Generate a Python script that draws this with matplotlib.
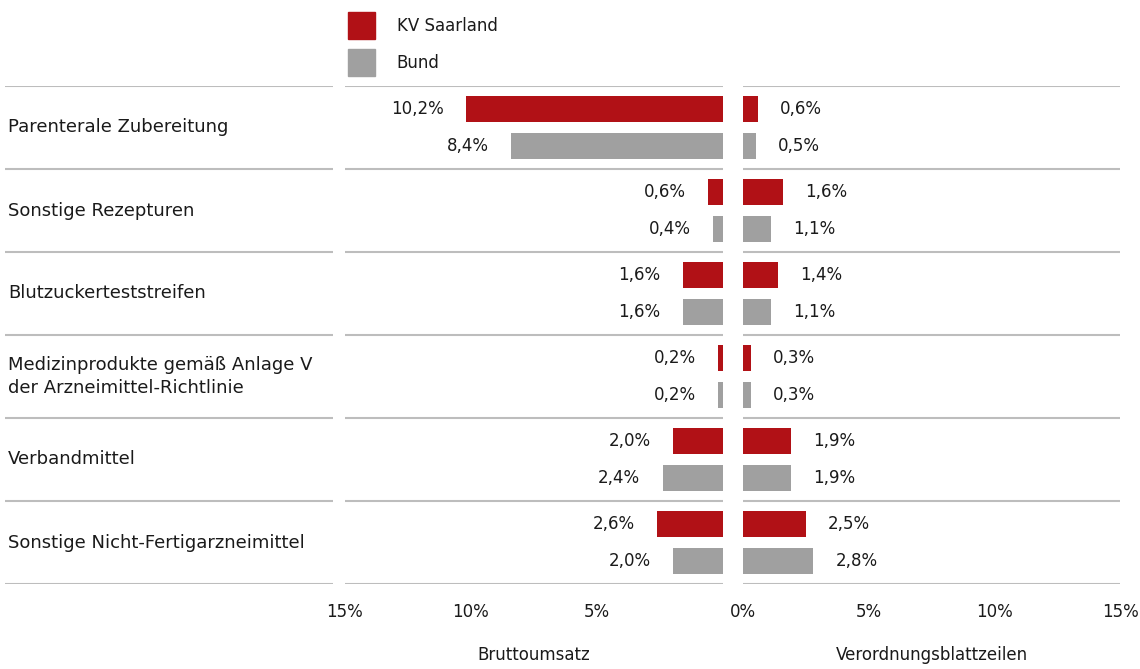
import matplotlib
matplotlib.use("Agg")
import matplotlib.pyplot as plt
import numpy as np

# data
categories = ["Parenterale Zubereitung", "Sonstige Rezepturen", "Blutzuckerteststreifen",
              "Medizinprodukte gemäß Anlage V\nder Arzneimittel-Richtlinie", "Verbandmittel",
              "Sonstige Nicht-Fertigarzneimittel"]
umsatz_kv = [10.2, 0.6, 1.6, 0.2, 2.0, 2.6]
umsatz_bund = [8.4, 0.4, 1.6, 0.2, 2.4, 2.0]
zeilen_kv = [0.6, 1.6, 1.4, 0.3, 1.9, 2.5]
zeilen_bund = [0.5, 1.1, 1.1, 0.3, 1.9, 2.8]
series_names = ["KV Saarland", "Bund"]

red = "#b11116"
grey = "#a0a0a0"
linecol = "#bdbdbd"
txtcol = "#1a1a1a"

plt.rcParams['font.family'] = ['DejaVu Sans']
plt.rcParams['font.size'] = 12

fig = plt.figure(figsize=(11.4, 6.69), dpi=100)
bot = 1 - 584 / 669
hgt = (584 - 86) / 669
ax_lab = fig.add_axes([5 / 1140, bot, 328 / 1140, hgt])
ax_l = fig.add_axes([345 / 1140, bot, 378 / 1140, hgt])
ax_r = fig.add_axes([743 / 1140, bot, 377 / 1140, hgt])

y = np.arange(len(categories))
off = 0.225
bh = 0.31

def fmt(v):
    return f"{v:.1f}%".replace(".", ",")

for ax in (ax_lab, ax_l, ax_r):
    ax.set_ylim(len(categories) - 0.5, -0.5)
    for s in ax.spines.values():
        s.set_visible(False)
    for b in np.arange(-0.5, len(categories), 1.0):
        ax.axhline(b, color=linecol, lw=1.5, zorder=0)
    ax.tick_params(length=0, colors=txtcol, labelsize=12, pad=14)
    ax.set_yticks([])

# category labels
ax_lab.set_xlim(0, 1)
ax_lab.set_xticks([])
for i, c in enumerate(categories):
    ax_lab.text(0.01, i, c, ha="left", va="center", fontsize=13, color=txtcol, linespacing=1.4)

# left panel, reversed
ax_l.barh(y - off, umsatz_kv, height=bh, color=red)
ax_l.barh(y + off, umsatz_bund, height=bh, color=grey)
ax_l.set_xlim(15, 0)
ax_l.set_xticks([15, 10, 5])
ax_l.set_xticklabels(["15%", "10%", "5%"])
for i in range(len(categories)):
    ax_l.annotate(fmt(umsatz_kv[i]), (umsatz_kv[i], y[i] - off), xytext=(-16, 0),
                  textcoords="offset points", ha="right", va="center", color=txtcol, fontsize=12)
    ax_l.annotate(fmt(umsatz_bund[i]), (umsatz_bund[i], y[i] + off), xytext=(-16, 0),
                  textcoords="offset points", ha="right", va="center", color=txtcol, fontsize=12)
ax_l.set_xlabel("Bruttoumsatz", fontsize=12, color=txtcol, labelpad=18)

# right panel
ax_r.barh(y - off, zeilen_kv, height=bh, color=red)
ax_r.barh(y + off, zeilen_bund, height=bh, color=grey)
ax_r.set_xlim(0, 15)
ax_r.set_xticks([0, 5, 10, 15])
ax_r.set_xticklabels(["0%", "5%", "10%", "15%"])
for i in range(len(categories)):
    ax_r.annotate(fmt(zeilen_kv[i]), (zeilen_kv[i], y[i] - off), xytext=(16, 0),
                  textcoords="offset points", ha="left", va="center", color=txtcol, fontsize=12)
    ax_r.annotate(fmt(zeilen_bund[i]), (zeilen_bund[i], y[i] + off), xytext=(16, 0),
                  textcoords="offset points", ha="left", va="center", color=txtcol, fontsize=12)
ax_r.set_xlabel("Verordnungsblattzeilen", fontsize=12, color=txtcol, labelpad=18)

# legend
fig.legend(handles=[plt.Rectangle((0, 0), 1, 1, color=red), plt.Rectangle((0, 0), 1, 1, color=grey)],
           labels=series_names, loc="upper left", bbox_to_anchor=(333 / 1140, 1 + 3 / 669),
           frameon=False, handlelength=1.62, handleheight=2.1, handletextpad=1.3,
           labelspacing=0.6, fontsize=12, labelcolor=txtcol)

fig.savefig("out.png", dpi=100, facecolor="white")
